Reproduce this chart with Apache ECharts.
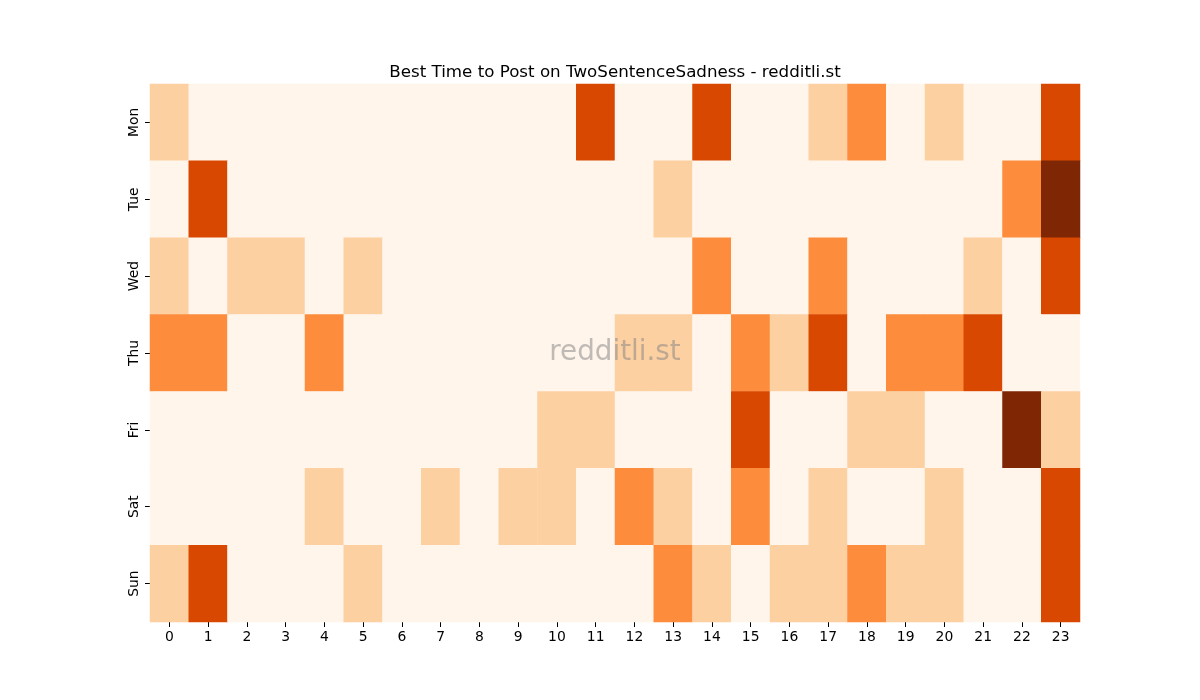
<!DOCTYPE html>
<html>
<head>
<meta charset="utf-8">
<script src="https://cdn.jsdelivr.net/npm/echarts@6/dist/echarts.min.js"></script>
<style>
  html, body {margin: 0; padding: 0; background: #fff;}
  #chart {width: 1200px; height: 700px;}
</style>
</head>
<body>
<div id="chart"></div>
<script>
// hours and days
const hours = ['0','1','2','3','4','5','6','7','8','9','10','11','12','13','14','15','16','17','18','19','20','21','22','23']
const days = ['Mon', 'Tue', 'Wed', 'Thu', 'Fri', 'Sat', 'Sun']

// level per hour (0..4)
const mon = [1,0,0,0,0,0,0,0,0,0,0,3,0,0,3,0,0,1,2,0,1,0,0,3]
const tue = [0,3,0,0,0,0,0,0,0,0,0,0,0,1,0,0,0,0,0,0,0,0,2,4]
const wed = [1,0,1,1,0,1,0,0,0,0,0,0,0,0,2,0,0,2,0,0,0,1,0,3]
const thu = [2,2,0,0,2,0,0,0,0,0,0,0,1,1,0,2,1,3,0,2,2,3,0,0]
const fri = [0,0,0,0,0,0,0,0,0,0,1,1,0,0,0,3,0,0,1,1,0,0,4,1]
const sat = [0,0,0,0,1,0,0,1,0,1,1,0,2,1,0,2,0,1,0,0,1,0,0,3]
const sun = [1,3,0,0,0,1,0,0,0,0,0,0,0,2,1,0,1,1,2,1,1,0,0,3]

const rows = [mon, tue, wed, thu, fri, sat, sun]
const levelColors = ['#fff5eb', '#fdd0a2', '#fd8d3c', '#d94801', '#7f2704']

const data = []
rows.forEach((row, d) => {
  row.forEach((v, h) => data.push([h, d, v]))
})

const chart = echarts.init(document.getElementById('chart'))
const font = 'DejaVu Sans'

chart.setOption({
  animation: false,
  backgroundColor: '#fff',
  title: {
    text: 'Best Time to Post on TwoSentenceSadness - redditli.st',
    left: 610,
    textAlign: 'center',
    top: 59,
    textStyle: {fontFamily: font, fontSize: 16.7, fontWeight: 'normal', color: '#000'}
  },
  grid: {left: 150, right: 120, top: 84, bottom: 78},
  xAxis: {
    type: 'category',
    data: hours,
    axisLine: {show: false},
    axisTick: {show: true, alignWithLabel: true, length: 5, lineStyle: {color: '#000'}},
    axisLabel: {fontFamily: font, fontSize: 13.9, color: '#000', margin: 8},
    splitLine: {show: false}
  },
  yAxis: {
    type: 'category',
    data: days,
    inverse: true,
    axisLine: {show: false},
    axisTick: {show: true, alignWithLabel: true, length: 5, lineStyle: {color: '#000'}},
    axisLabel: {fontFamily: font, fontSize: 13.9, color: '#000', rotate: 90, margin: 9},
    splitLine: {show: false}
  },
  visualMap: {
    show: false,
    type: 'piecewise',
    dimension: 2,
    pieces: levelColors.map((c, i) => ({value: i, color: c}))
  },
  series: [{
    type: 'heatmap',
    data: data,
    itemStyle: {borderWidth: 0},
    emphasis: {disabled: true}
  }],
  graphic: [{
    type: 'text',
    x: 615,
    y: 353,
    style: {
      text: 'redditli.st',
      font: '27.8px "DejaVu Sans"',
      fill: 'rgba(128,128,128,0.5)',
      align: 'center',
      verticalAlign: 'middle'
    },
    z: 100
  }]
})
</script>
</body>
</html>
